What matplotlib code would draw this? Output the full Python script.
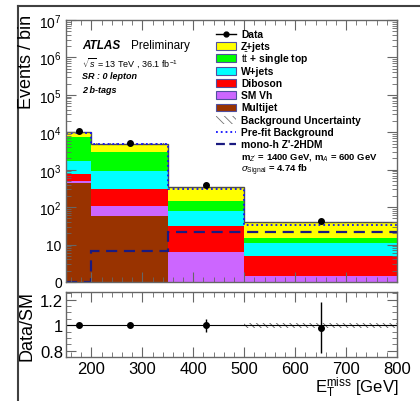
import matplotlib
matplotlib.use("Agg")
import matplotlib.pyplot as plt
from matplotlib.lines import Line2D
from matplotlib.patches import Rectangle
from matplotlib.ticker import FixedLocator, MultipleLocator, NullFormatter

plt.rcParams['font.family'] = ['Liberation Sans', 'DejaVu Sans']
plt.rcParams['mathtext.fontset'] = 'custom'
plt.rcParams['mathtext.rm'] = 'Liberation Sans'
plt.rcParams['mathtext.it'] = 'Liberation Sans:italic'
plt.rcParams['mathtext.bf'] = 'Liberation Sans:bold'
plt.rcParams['hatch.linewidth'] = 0.6

# binning in MET [GeV]
edges = [150, 200, 350, 500, 800]
centers = [175, 275, 425, 650]

# background components (events per bin), bottom of stack first
multijet = [440, 57, 0, 0]
smvh = [60, 50, 6.5, 1.45]
diboson = [260, 203, 25.5, 3.45]
wjets = [910, 640, 46, 6.1]
ttbar = [5630, 2050, 67, 4.4]
zjets = [2700, 2000, 205, 24.6]

bkg_unc_rel = [0.01, 0.01, 0.015, 0.03]
prefit = [9600, 4900, 310, 33]
signal = [1.0, 6.9, 21.5, 21.5]

data = [10700, 5200, 380, 41.5]
data_err = [100, 70, 19, 6.5]

ratio = [1.0, 1.0, 1.0, 0.98]
ratio_err = [0.01, 0.015, 0.05, 0.2]

components = [
    (multijet, '#993300', 'Multijet'),
    (smvh, '#cc66ff', 'SM Vh'),
    (diboson, '#ff0000', 'Diboson'),
    (wjets, '#00ffff', 'W+jets'),
    (ttbar, '#00ff00', r'$\mathrm{t\bar{t}}$ + single top'),
    (zjets, '#ffff00', 'Z+jets'),
]

fig = plt.figure(figsize=(4.2, 4.02), dpi=100)
ax = fig.add_axes([66/420, 1-283/402, 331/420, 262/402])
rax = fig.add_axes([66/420, 1-358/402, 331/420, 65/402])

widths = [edges[i+1] - edges[i] for i in range(len(centers))]
bottom = [0.0] * len(centers)
for vals, col, lab in components:
    ax.bar(edges[:-1], vals, width=widths, bottom=bottom, align='edge',
           color=col, linewidth=0)
    bottom = [b + v for b, v in zip(bottom, vals)]
total = bottom

ax.stairs(total, edges, color='0.3', lw=1.0, baseline=None)
unc = [t * r for t, r in zip(total, bkg_unc_rel)]
ax.bar(edges[:-1], [2*u for u in unc], width=widths,
       bottom=[t - u for t, u in zip(total, unc)], align='edge',
       fill=False, hatch='\\\\\\\\\\', edgecolor='0.35', linewidth=0)
ax.stairs(prefit, edges, color='#1010ff', ls=':', lw=1.3, baseline=None)
ax.stairs(signal, edges, color='#1a1a80', ls=(0, (5, 3)), lw=1.6, baseline=None)
ax.errorbar(centers, data, yerr=data_err, fmt='o', color='black', ms=4, lw=1)

ax.set_yscale('log')
ax.set_xlim(150, 800)
ax.set_ylim(1, 1e7)
ax.yaxis.set_major_locator(FixedLocator([1, 10, 100, 1e3, 1e4, 1e5, 1e6, 1e7]))
ax.set_yticklabels(['0', '10', '$10^{2}$', '$10^{3}$', '$10^{4}$', '$10^{5}$',
                    '$10^{6}$', '$10^{7}$'])
ax.yaxis.set_minor_formatter(NullFormatter())
ax.xaxis.set_major_locator(MultipleLocator(100))
ax.xaxis.set_minor_locator(MultipleLocator(20))
ax.tick_params(axis='x', labelbottom=False)

for a in (ax, rax):
    a.tick_params(which='both', direction='in', top=True, right=True, color='0.4')
    a.tick_params(which='major', length=7)
    a.tick_params(which='minor', length=3.5)
    for s in a.spines.values():
        s.set_color('0.4')
        s.set_linewidth(1.0)
ax.tick_params(axis='y', labelsize=10, pad=3)

# labels
ax.text(0.048, 0.905, 'ATLAS', transform=ax.transAxes, fontsize=8.5,
        fontweight='bold', style='italic', va='center')
ax.text(0.197, 0.905, 'Preliminary', transform=ax.transAxes, fontsize=8.5,
        va='center')
ax.text(0.048, 0.84, r'$\sqrt{s}$ = 13 TeV , 36.1 fb$^{-1}$', transform=ax.transAxes,
        fontsize=6.5, va='center')
ax.text(0.048, 0.79, 'SR : 0 lepton', transform=ax.transAxes, fontsize=6.5,
        fontweight='bold', style='italic', va='center')
ax.text(0.048, 0.735, '2 b-tags', transform=ax.transAxes, fontsize=6.5,
        fontweight='bold', style='italic', va='center')

# legend drawn row by row (ROOT TLegend style)
leg_x0, leg_x1, leg_tx = 0.453, 0.514, 0.529
leg_top, leg_pitch = 0.947, 0.0468
leg_size = 7.4
hbox = 0.03


def row_y(i):
    return leg_top - i * leg_pitch


tr = ax.transAxes
ax.add_line(Line2D([leg_x0, leg_x1], [row_y(0)] * 2, transform=tr, color='black', lw=1))
ax.add_line(Line2D([(leg_x0 + leg_x1) / 2], [row_y(0)], transform=tr, color='black',
                   marker='o', ms=3.5))
ax.text(leg_tx, row_y(0), 'Data', transform=tr, fontsize=leg_size,
        fontweight='bold', va='center')
for i, (vals, col, lab) in enumerate(reversed(components), start=1):
    ax.add_patch(Rectangle((leg_x0, row_y(i) - hbox / 2), leg_x1 - leg_x0, hbox,
                           transform=tr, facecolor=col, edgecolor='#5050a0', lw=0.8))
    ax.text(leg_tx, row_y(i), lab, transform=tr, fontsize=leg_size,
            fontweight='bold', va='center')
ax.add_patch(Rectangle((leg_x0, row_y(7) - hbox / 2), leg_x1 - leg_x0, hbox,
                       transform=tr, facecolor='white', edgecolor='0.45',
                       hatch='\\\\\\\\', lw=0))
ax.text(leg_tx, row_y(7), 'Background Uncertainty', transform=tr, fontsize=leg_size,
        fontweight='bold', va='center')
ax.add_line(Line2D([leg_x0, leg_x1], [row_y(8)] * 2, transform=tr, color='#1010ff',
                   ls=':', lw=1.3))
ax.text(leg_tx, row_y(8), 'Pre-fit Background', transform=tr, fontsize=leg_size,
        fontweight='bold', va='center')
ax.add_line(Line2D([leg_x0, leg_x1], [row_y(9)] * 2, transform=tr, color='#1a1a80',
                   ls=(0, (4, 2)), lw=1.6))
ax.text(leg_tx, row_y(9), "mono-h Z'-2HDM", transform=tr, fontsize=leg_size,
        fontweight='bold', va='center')
ax.text(leg_tx, row_y(9) - 0.045, r"m$_{Z'}$ = 1400 GeV, m$_{A}$ = 600 GeV",
        transform=tr, fontsize=6.8, fontweight='bold', va='center')
ax.text(leg_tx, row_y(9) - 0.097, r"$\sigma_{\mathrm{Signal}}$ = 4.74 fb",
        transform=tr, fontsize=6.8, fontweight='bold', va='center')

# ratio panel
rax.bar([edges[3]], [2*bkg_unc_rel[3]/1.5], width=[widths[3]],
        bottom=[1 - bkg_unc_rel[3]/1.5], align='edge', fill=False,
        hatch='\\\\\\\\\\', edgecolor='0.35', linewidth=0)
rax.axhline(1.0, color='black', lw=0.8)
rax.errorbar(centers, ratio, yerr=ratio_err, fmt='o', color='black', ms=4, lw=1)
rax.set_xlim(150, 800)
rax.set_ylim(0.75, 1.26)
rax.yaxis.set_major_locator(FixedLocator([0.8, 1.0, 1.2]))
rax.set_yticklabels(['0.8', '1', '1.2'])
rax.yaxis.set_minor_locator(MultipleLocator(0.05))
rax.xaxis.set_major_locator(MultipleLocator(100))
rax.xaxis.set_minor_locator(MultipleLocator(20))
rax.tick_params(axis='y', labelsize=12, pad=2)
rax.tick_params(axis='x', labelsize=12, pad=3)

fig.text(398/420, 1-393/402, r'E$_{\mathrm{T}}^{\mathrm{miss}}$ [GeV]', fontsize=12,
         ha='right', va='baseline')
fig.text(27/420, 1-62/402, 'Events / bin', rotation=90, fontsize=13,
         ha='center', va='center')
fig.text(27/420, 1-326/402, 'Data/SM', rotation=90, fontsize=13,
         ha='center', va='center')

# outer frame lines
fig.add_artist(Line2D([18/420, 18/420], [0, 1-7/402], transform=fig.transFigure,
                      color='0.25', lw=1.5))
fig.add_artist(Line2D([18/420, 1], [1-7/402, 1-7/402], transform=fig.transFigure,
                      color='0.25', lw=1.5))

fig.savefig('out.png', dpi=100)
